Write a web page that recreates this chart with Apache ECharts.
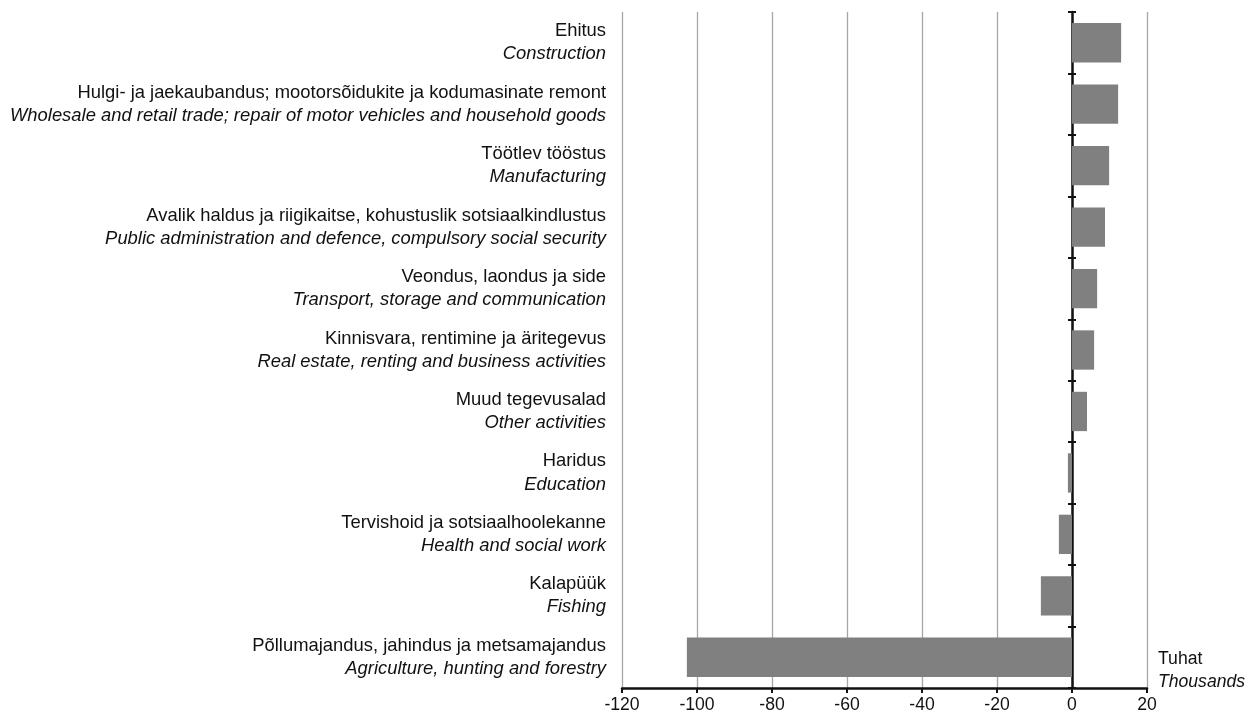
<!DOCTYPE html>
<html>
<head>
<meta charset="utf-8">
<script src="https://cdn.jsdelivr.net/npm/echarts@6/dist/echarts.min.js"></script>
<style>html,body{margin:0;padding:0;background:#fff;}#c{width:1247px;height:724px;}</style>
</head>
<body>
<div id="c"></div>
<script>
var catsEt = ['Ehitus','Hulgi- ja jaekaubandus; mootorsõidukite ja kodumasinate remont','Töötlev tööstus','Avalik haldus ja riigikaitse, kohustuslik sotsiaalkindlustus','Veondus, laondus ja side','Kinnisvara, rentimine ja äritegevus','Muud tegevusalad','Haridus','Tervishoid ja sotsiaalhoolekanne','Kalapüük','Põllumajandus, jahindus ja metsamajandus'];
var catsEn = ['Construction','Wholesale and retail trade; repair of motor vehicles and household goods','Manufacturing','Public administration and defence, compulsory social security','Transport, storage and communication','Real estate, renting and business activities','Other activities','Education','Health and social work','Fishing','Agriculture, hunting and forestry'];
var values = [13.1, 12.3, 9.9, 8.8, 6.7, 5.9, 4.0, -1.1, -3.5, -8.3, -102.7];
var xTicks = [-120, -100, -80, -60, -40, -20, 0, 20];
var unitLabels = ['Tuhat', 'Thousands'];

var cats = catsEt.map(function (e, i) { return i; });
var font = 'Liberation Sans, Arial, sans-serif';
var chart = echarts.init(document.getElementById('c'));
chart.setOption({
  animation: false,
  grid: { left: 622, right: 100, top: 12, bottom: 36, containLabel: false },
  xAxis: {
    type: 'value', min: xTicks[0], max: xTicks[xTicks.length - 1], interval: 20,
    axisLine: { show: true, onZero: false, lineStyle: { color: '#111', width: 2.5 } },
    axisTick: { show: true, length: 5, lineStyle: { color: '#111', width: 2 } },
    axisLabel: { color: '#111', fontSize: 17.6, fontFamily: font, margin: 8 },
    splitLine: { show: true, lineStyle: { color: '#a6a6a6', width: 1.3 } }
  },
  yAxis: [
    {
      type: 'category', data: cats, inverse: true, position: 'left',
      axisLine: { show: true, onZero: true, onZeroAxisIndex: 0, lineStyle: { color: '#111', width: 2.5 } },
      axisTick: { show: true, length: 4, inside: false, lineStyle: { color: '#111', width: 2 } },
      axisLabel: { show: false }, splitLine: { show: false }
    },
    {
      type: 'category', data: cats, inverse: true, position: 'left',
      axisLine: { show: false, onZero: true, onZeroAxisIndex: 0 },
      axisTick: { show: true, length: 4, inside: true, lineStyle: { color: '#111', width: 2 } },
      axisLabel: { show: false }, splitLine: { show: false }
    },
    {
      type: 'category', data: cats, inverse: true, position: 'left',
      axisLine: { show: false, onZero: false }, axisTick: { show: false }, splitLine: { show: false },
      axisLabel: {
        margin: 16, align: 'right',
        formatter: function (v) { return '{a|' + catsEt[v] + '}\n{b|' + catsEn[v] + '}'; },
        rich: {
          a: { fontSize: 18.4, fontFamily: font, color: '#111', lineHeight: 23, align: 'right' },
          b: { fontSize: 18.4, fontFamily: font, color: '#111', fontStyle: 'italic', lineHeight: 23, align: 'right' }
        }
      }
    }
  ],
  series: [{
    type: 'bar', data: values, yAxisIndex: 0, barCategoryGap: '36%',
    itemStyle: { color: '#808080' }
  }],
  graphic: [
    { type: 'text', left: 1158, top: 650, style: { text: unitLabels[0], font: '17.6px Liberation Sans, Arial, sans-serif', fill: '#111' } },
    { type: 'text', left: 1158, top: 673, style: { text: unitLabels[1], font: 'italic 17.6px Liberation Sans, Arial, sans-serif', fill: '#111' } }
  ]
});
</script>
</body>
</html>
